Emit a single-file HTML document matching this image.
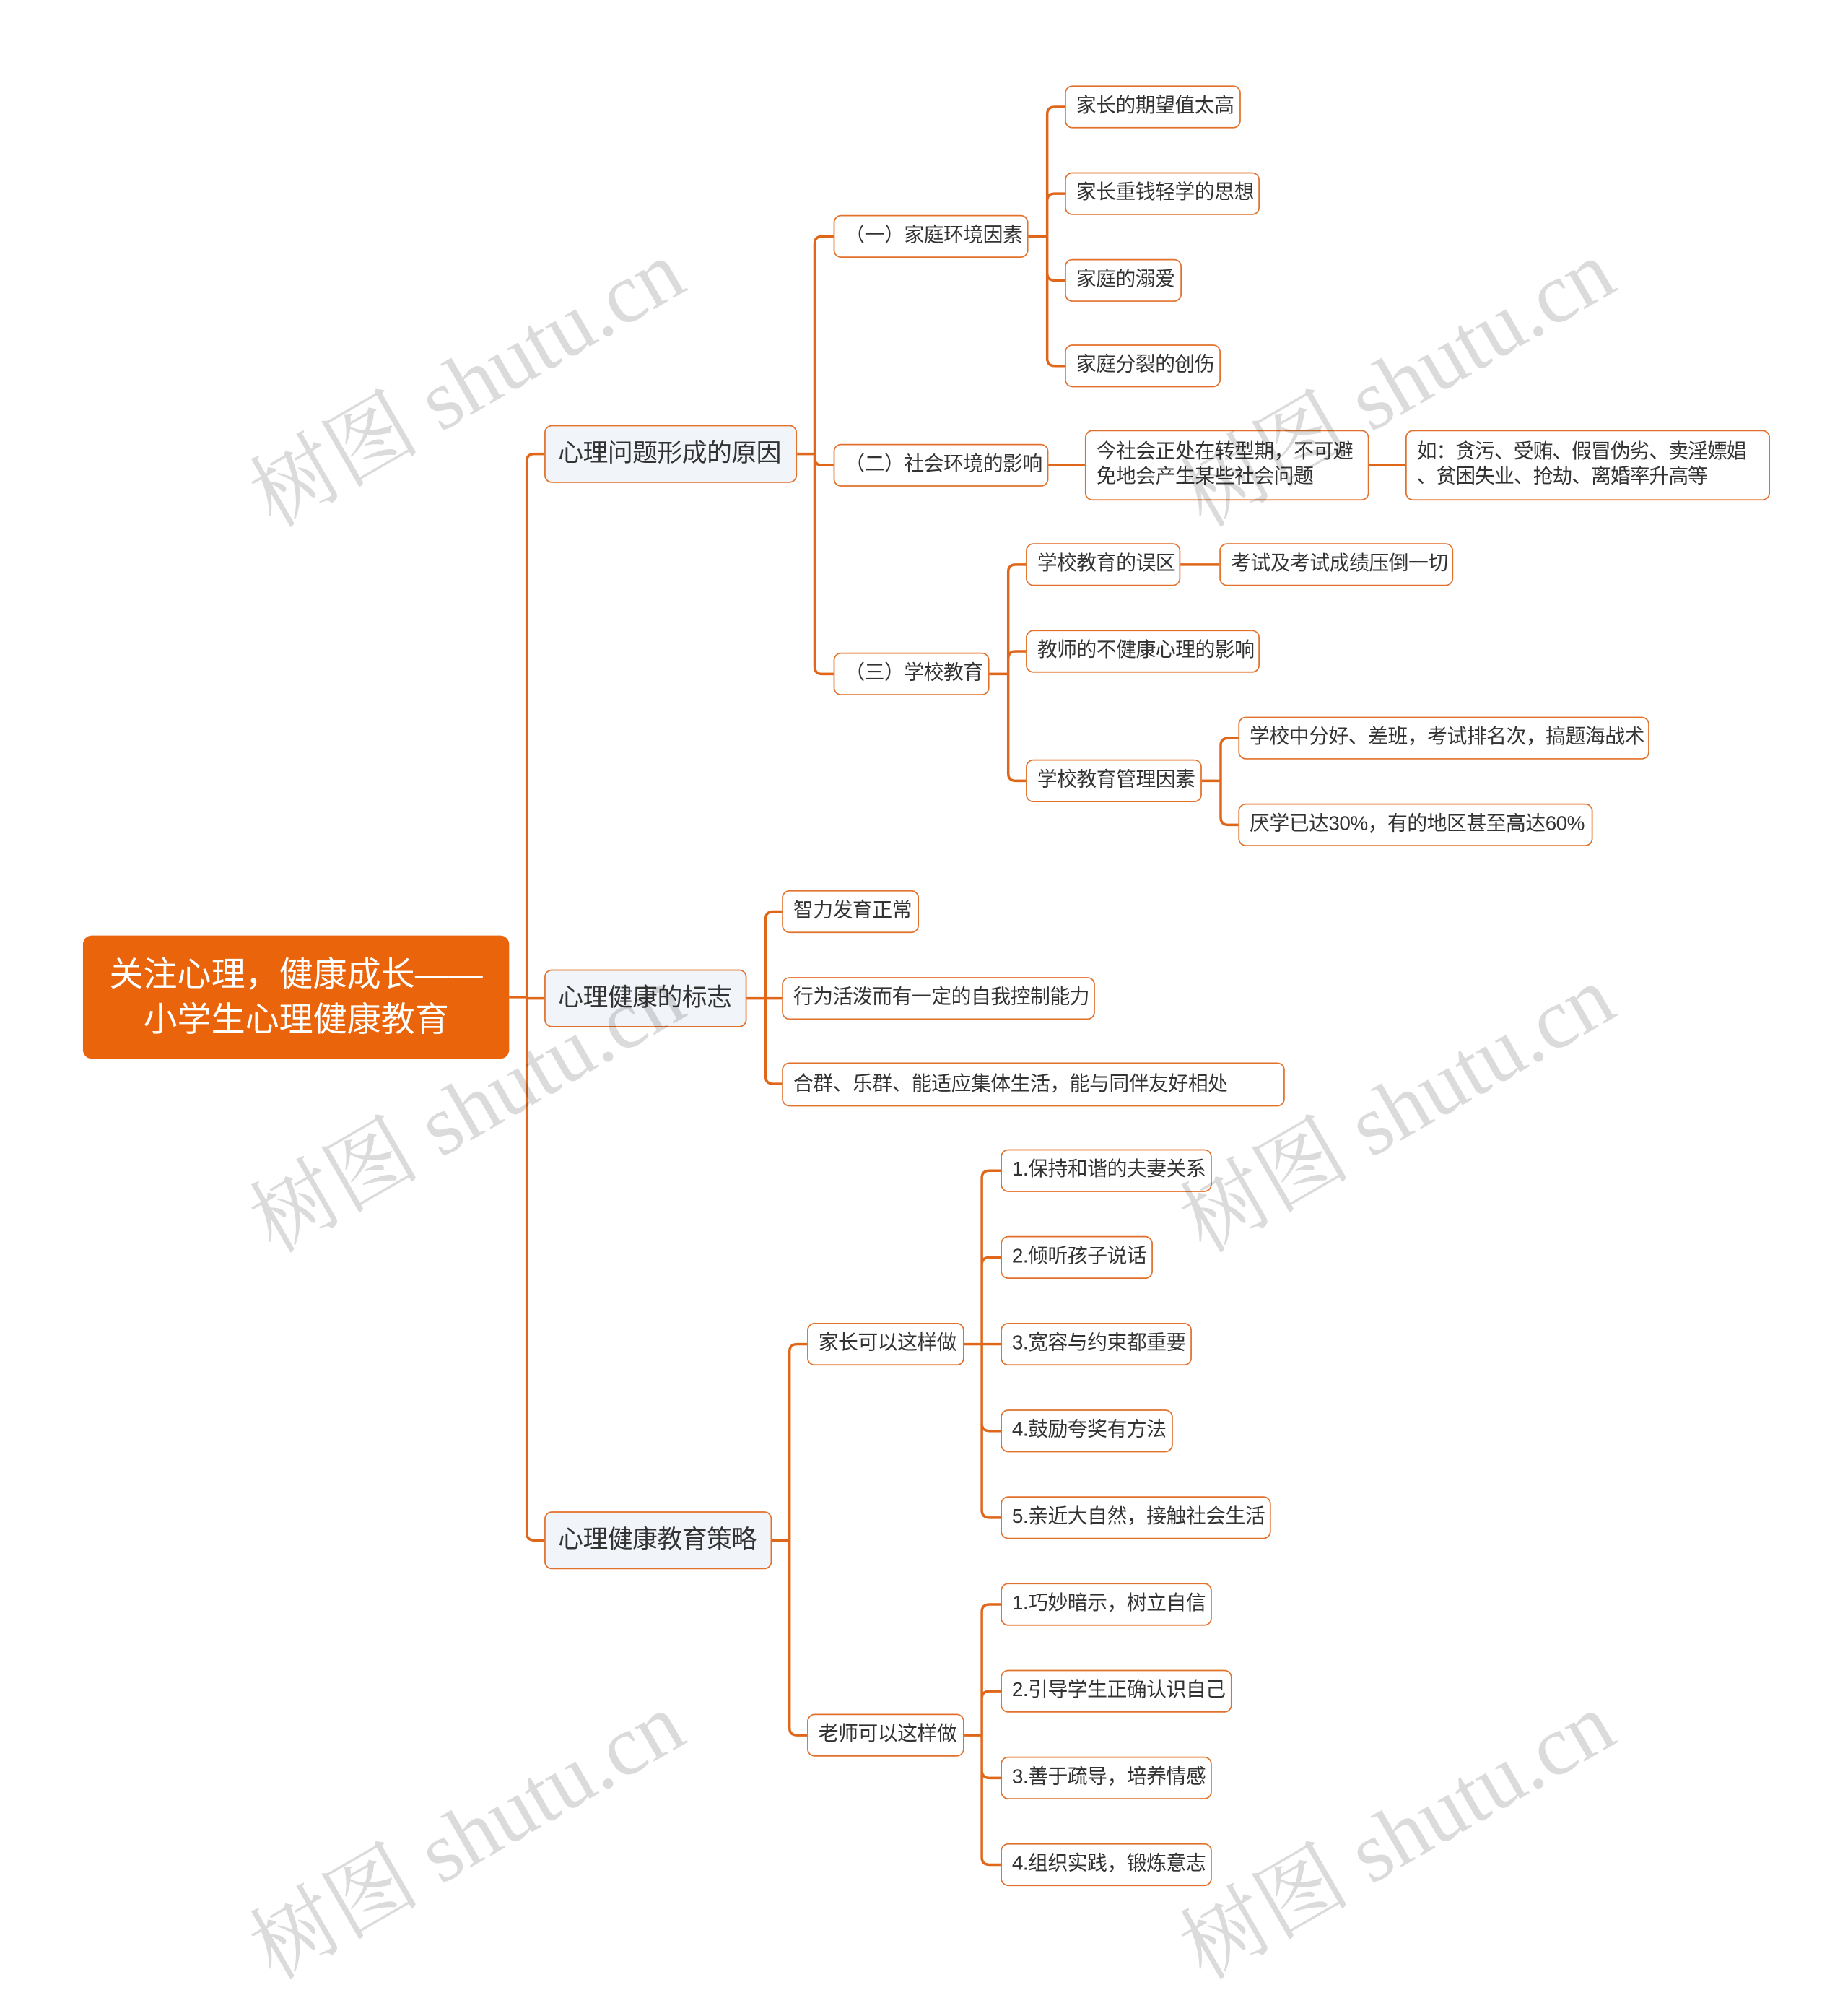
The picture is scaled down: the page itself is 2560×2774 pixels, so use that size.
<!DOCTYPE html>
<html><head><meta charset="utf-8">
<style>
html,body{margin:0;padding:0;background:#fff;}
body{width:2560px;height:2720px;overflow:hidden;position:relative;}
#c{position:absolute;left:0;top:0;width:1470px;height:1562px;transform:scale(1.7415,1.7414);transform-origin:0 0;font-family:"Liberation Sans","Noto Sans CJK SC",sans-serif;}
.n{position:absolute;box-sizing:border-box;border:1.5px solid #E2712B;border-radius:6px;background:#fff;color:#333;font-size:16px;display:flex;align-items:center;padding-left:8px;white-space:nowrap;line-height:20px;letter-spacing:-0.3px;}
.l1{background:#F1F4F8;font-size:20px;padding-left:10px;}
.root{position:absolute;background:#E9640A;border-radius:7px;color:#fff;font-size:27px;text-align:center;line-height:36px;display:flex;align-items:center;justify-content:center;}
.wm{position:absolute;font-family:"Liberation Serif","Noto Serif CJK SC",serif;font-size:68px;color:rgba(0,0,0,0.14);transform:rotate(-30deg);white-space:nowrap;transform-origin:center;}
svg{position:absolute;left:0;top:0;}
</style></head><body>
<div id="c">
<svg width="1470" height="1562" id="s"></svg>
<div class="root" style="left:66px;top:744px;width:339px;height:98px;">关注心理，健康成长——<br>小学生心理健康教育</div>

<div class="n l1" style="left:433px;top:338px;width:201px;height:46px;">心理问题形成的原因</div>
<div class="n l1" style="left:433px;top:771px;width:161px;height:46px;">心理健康的标志</div>
<div class="n l1" style="left:433px;top:1202px;width:181px;height:46px;">心理健康教育策略</div>

<div class="n" style="left:663px;top:171px;width:155px;height:34px;">（一）家庭环境因素</div>
<div class="n" style="left:663px;top:353px;width:171px;height:34px;">（二）社会环境的影响</div>
<div class="n" style="left:663px;top:519px;width:124px;height:34px;">（三）学校教育</div>

<div class="n" style="left:847px;top:68px;width:140px;height:34px;">家长的期望值太高</div>
<div class="n" style="left:847px;top:137px;width:155px;height:34px;">家长重钱轻学的思想</div>
<div class="n" style="left:847px;top:206px;width:93px;height:34px;">家庭的溺爱</div>
<div class="n" style="left:847px;top:274px;width:124px;height:34px;">家庭分裂的创伤</div>

<div class="n" style="left:863px;top:342px;width:226px;height:56px;white-space:normal;">今社会正处在转型期，不可避免地会产生某些社会问题</div>
<div class="n" style="left:1118px;top:342px;width:290px;height:56px;white-space:normal;letter-spacing:-0.6px;padding-right:2px;">如：贪污、受贿、假冒伪劣、卖淫嫖娼<br>、贫困失业、抢劫、离婚率升高等</div>

<div class="n" style="left:816px;top:432px;width:123px;height:34px;">学校教育的误区</div>
<div class="n" style="left:970px;top:432px;width:186px;height:34px;">考试及考试成绩压倒一切</div>
<div class="n" style="left:816px;top:501px;width:186px;height:34px;">教师的不健康心理的影响</div>
<div class="n" style="left:816px;top:604px;width:140px;height:34px;">学校教育管理因素</div>
<div class="n" style="left:985px;top:570px;width:327px;height:34px;">学校中分好、差班，考试排名次，搞题海战术</div>
<div class="n" style="left:985px;top:639px;width:282px;height:34px;">厌学已达30%，有的地区甚至高达60%</div>

<div class="n" style="left:622px;top:708px;width:109px;height:34px;">智力发育正常</div>
<div class="n" style="left:622px;top:777px;width:249px;height:34px;">行为活泼而有一定的自我控制能力</div>
<div class="n" style="left:622px;top:845px;width:400px;height:35px;">合群、乐群、能适应集体生活，能与同伴友好相处</div>

<div class="n" style="left:642px;top:1052px;width:125px;height:34px;">家长可以这样做</div>
<div class="n" style="left:642px;top:1363px;width:125px;height:34px;">老师可以这样做</div>

<div class="n" style="left:796px;top:914px;width:168px;height:34px;">1.保持和谐的夫妻关系</div>
<div class="n" style="left:796px;top:983px;width:121px;height:34px;">2.倾听孩子说话</div>
<div class="n" style="left:796px;top:1052px;width:152px;height:34px;">3.宽容与约束都重要</div>
<div class="n" style="left:796px;top:1121px;width:137px;height:34px;">4.鼓励夸奖有方法</div>
<div class="n" style="left:796px;top:1190px;width:215px;height:34px;">5.亲近大自然，接触社会生活</div>

<div class="n" style="left:796px;top:1259px;width:168px;height:34px;">1.巧妙暗示，树立自信</div>
<div class="n" style="left:796px;top:1328px;width:184px;height:34px;">2.引导学生正确认识自己</div>
<div class="n" style="left:796px;top:1397px;width:168px;height:34px;">3.善于疏导，培养情感</div>
<div class="n" style="left:796px;top:1466px;width:168px;height:34px;">4.组织实践，锻炼意志</div>

<div class="wm" style="left:178px;top:252px;">树图 shutu.cn</div>
<div class="wm" style="left:918px;top:252px;">树图 shutu.cn</div>
<div class="wm" style="left:178px;top:829px;">树图 shutu.cn</div>
<div class="wm" style="left:918px;top:829px;">树图 shutu.cn</div>
<div class="wm" style="left:178px;top:1407px;">树图 shutu.cn</div>
<div class="wm" style="left:918px;top:1407px;">树图 shutu.cn</div>
</div>
<script>
var s=document.getElementById('s'),d='';
function g(px,py,vx,kids){
  kids.forEach(function(k){
    var cy=k[1],cx=k[0],r=6;
    d+='M'+px+' '+py+'H'+vx;
    if(Math.abs(cy-py)<r){d+='V'+cy+'H'+cx;}
    else{var sg=cy>py?1:-1;d+='V'+(cy-sg*r)+'Q'+vx+' '+cy+' '+(vx+r)+' '+cy+'H'+cx;}
  });
}
g(405,793,419,[[433,361],[433,794],[433,1225]]);
g(634,361,648,[[663,188],[663,370],[663,536]]);
g(818,188,833,[[847,85],[847,154],[847,223],[847,291]]);
g(834,370,848,[[863,370]]);
g(1089,370,1103,[[1118,370]]);
g(787,536,802,[[816,449],[816,518],[816,621]]);
g(939,449,955,[[970,449]]);
g(956,621,971,[[985,587],[985,656]]);
g(594,794,609,[[622,725],[622,794],[622,862]]);
g(614,1225,628,[[642,1069],[642,1380]]);
g(767,1069,781,[[796,931],[796,1000],[796,1069],[796,1138],[796,1207]]);
g(767,1380,781,[[796,1276],[796,1345],[796,1414],[796,1483]]);
var p=document.createElementNS('http://www.w3.org/2000/svg','path');
p.setAttribute('d',d);p.setAttribute('fill','none');p.setAttribute('stroke','#E0661A');p.setAttribute('stroke-width','2');
s.appendChild(p);
</script>
</body></html>
